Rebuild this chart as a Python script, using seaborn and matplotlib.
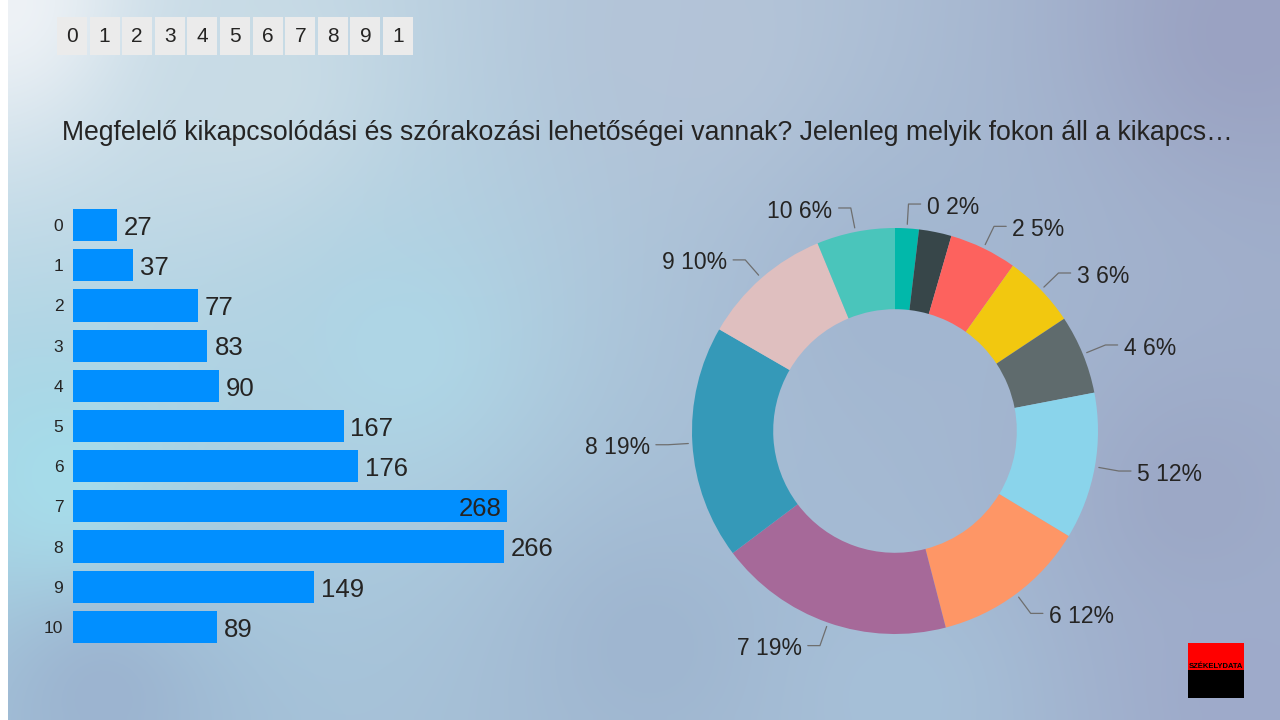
import numpy as np
import matplotlib
matplotlib.use("Agg")
import matplotlib.pyplot as plt
from matplotlib.patches import Rectangle
import seaborn as sns

LEVELS = ["0", "1", "2", "3", "4", "5", "6", "7", "8", "9", "10"]
COUNTS = [27, 37, 77, 83, 90, 167, 176, 268, 266, 149, 89]
SLICER_LABELS = ["0", "1", "2", "3", "4", "5", "6", "7", "8", "9", "1"]
PIE_COLORS = ["#01B8AA", "#374649", "#FD625E", "#F2C80F", "#5F6B6D", "#8AD4EB",
              "#FE9666", "#A66999", "#3599B8", "#DFBFBF", "#4AC5BB"]
PIE_HIDDEN_LABELS = ["1"]
TITLE = ("Megfelelő kikapcsolódási és szórakozási lehetőségei vannak? "
         "Jelenleg melyik fokon áll a kikapcs…")
BAR_COLOR = "#018FFF"
TEXT_COLOR = "#252423"

W, H = 1280, 720

sns.set_theme(style="white")
plt.rcParams["font.family"] = ["Liberation Sans", "DejaVu Sans"]

fig = plt.figure(figsize=(W / 100, H / 100), dpi=100)


def px(x, y, w, h):
    """pixel box (top-left origin) -> figure fraction rect"""
    return [x / W, 1 - (y + h) / H, w / W, h / H]


# --- background gradient (decorative) ---
anchors = [
    (0, 0, "#EEF2F6"), (250, 80, "#C9DCE6"), (700, 40, "#B4C4D8"),
    (1250, 30, "#9AA2C2"), (60, 480, "#A6DCEA"), (400, 350, "#AED6E6"),
    (650, 650, "#9FB6D0"), (1200, 500, "#9CA8C6"), (1250, 700, "#9EAACA"),
    (100, 700, "#9CB4D0"), (900, 700, "#A6C0D8"), (900, 300, "#A2B6D0"),
]
gx, gy = np.meshgrid(np.linspace(0, W, 160), np.linspace(0, H, 90))
num = np.zeros(gx.shape + (3,))
den = np.zeros(gx.shape)
for ax_, ay_, c in anchors:
    d2 = (gx - ax_) ** 2 + (gy - ay_) ** 2 + 1.0
    wgt = 1.0 / d2
    num += wgt[..., None] * np.array(matplotlib.colors.to_rgb(c))
    den += wgt
bg = num / den[..., None]
bg_ax = fig.add_axes([0, 0, 1, 1], zorder=-10)
bg_ax.imshow(bg, extent=[0, W, H, 0], aspect="auto", interpolation="bilinear")
bg_ax.add_patch(Rectangle((0, 0), 8, H, facecolor="white", edgecolor="none"))
bg_ax.set_xlim(0, W)
bg_ax.set_ylim(H, 0)
bg_ax.axis("off")

# --- slicer buttons ---
for i, lab in enumerate(SLICER_LABELS):
    x0 = 57 + i * 32.6
    fig.patches.append(Rectangle((x0 / W, 1 - 55 / H), 30 / W, 38 / H,
                                 transform=fig.transFigure, facecolor="#EBEBEB",
                                 edgecolor="none", zorder=1))
    fig.text((x0 + 15) / W, 1 - 37 / H, lab, ha="center", va="center",
             fontsize=15, color=TEXT_COLOR, zorder=2)

# --- title ---
fig.text(62 / W, 1 - 133 / H, TITLE, ha="left", va="center",
         fontsize=19.2, color=TEXT_COLOR)

# --- bar chart ---
bar_w_px = 560
ax = fig.add_axes(px(73, 205, bar_w_px, 442))
ax.set_facecolor("none")
sns.barplot(x=COUNTS, y=LEVELS, orient="h", color=BAR_COLOR, width=0.8,
            saturation=1, linewidth=0, ax=ax)
ax.set_xlim(0, bar_w_px / 1.62)
ax.set_ylim(10.5, -0.5)
vmax = max(COUNTS)
for i, v in enumerate(COUNTS):
    if v == vmax:
        ax.annotate(str(v), (v, i), xytext=(-4, -2), textcoords="offset points",
                    ha="right", va="center", fontsize=18.5, color=TEXT_COLOR)
    else:
        ax.annotate(str(v), (v, i), xytext=(5, -2), textcoords="offset points",
                    ha="left", va="center", fontsize=18.5, color=TEXT_COLOR)
ax.set_xticks([])
ax.set_xlabel("")
ax.set_ylabel("")
ax.tick_params(axis="y", length=0, pad=7, labelsize=12.5, labelcolor=TEXT_COLOR)
sns.despine(ax=ax, left=True, bottom=True)

# --- donut ---
R_px = 203
cx, cy = 895, 431
lim = 1.5
size = 2 * lim * R_px
pax = fig.add_axes(px(cx - size / 2, cy - size / 2, size, size))
pax.set_facecolor("none")
wedges, _ = pax.pie(COUNTS, colors=PIE_COLORS, startangle=90, counterclock=False,
                    radius=1, wedgeprops=dict(width=0.4, edgecolor="none"))
pax.set_xlim(-lim, lim)
pax.set_ylim(-lim, lim)
pax.set_aspect("equal")
pax.axis("off")

total = sum(COUNTS)
for w, lab, v in zip(wedges, LEVELS, COUNTS):
    if lab in PIE_HIDDEN_LABELS:
        continue
    ang = np.deg2rad((w.theta1 + w.theta2) / 2)
    x1, y1 = 1.02 * np.cos(ang), 1.02 * np.sin(ang)
    x2, y2 = 1.12 * np.cos(ang), 1.12 * np.sin(ang)
    side = 1 if x2 >= 0 else -1
    x3 = x2 + side * 0.06
    pax.plot([x1, x2, x3], [y1, y2, y2], color="#6E6E6E", lw=0.9,
             clip_on=False)
    pct = 100 * v / total
    pax.text(x3 + side * 0.03, y2 - 0.015, f"{lab} {pct:.0f}%",
             ha="left" if side > 0 else "right", va="center",
             fontsize=16.5, color=TEXT_COLOR, clip_on=False)

# --- logo ---
fig.patches.append(Rectangle((1188 / W, 1 - 670 / H), 56 / W, 27 / H,
                             transform=fig.transFigure, facecolor="#FF0000",
                             edgecolor="none"))
fig.patches.append(Rectangle((1188 / W, 1 - 698 / H), 56 / W, 28 / H,
                             transform=fig.transFigure, facecolor="#000000",
                             edgecolor="none"))
fig.text(1216 / W, 1 - 666 / H, "SZÉKELYDATA", ha="center", va="center",
         fontsize=5.5, color="#000000", fontweight="bold")

fig.savefig("out.png", dpi=100)
